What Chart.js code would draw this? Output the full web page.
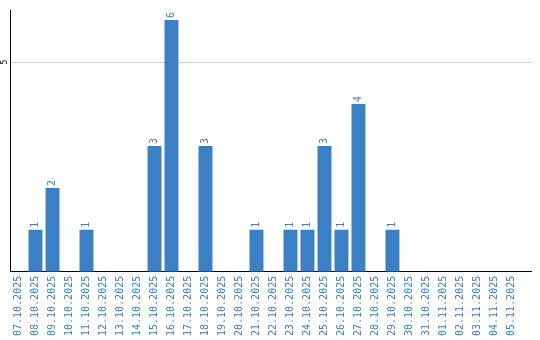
<!DOCTYPE html>
<html>
<head>
<meta charset="utf-8">
<script src="https://cdn.jsdelivr.net/npm/chart.js@4/dist/chart.umd.min.js"></script>
<style>
html,body{margin:0;padding:0;background:#fff;}
#wrap{width:540px;height:340px;position:relative;}
</style>
</head>
<body>
<div id="wrap"><canvas id="c" width="540" height="340"></canvas></div>
<script>
const categories = ["07.10.2025","08.10.2025","09.10.2025","10.10.2025","11.10.2025","12.10.2025","13.10.2025","14.10.2025","15.10.2025","16.10.2025","17.10.2025","18.10.2025","19.10.2025","20.10.2025","21.10.2025","22.10.2025","23.10.2025","24.10.2025","25.10.2025","26.10.2025","27.10.2025","28.10.2025","29.10.2025","30.10.2025","31.10.2025","01.11.2025","02.11.2025","03.11.2025","04.11.2025","05.11.2025"];
const counts = [0,1,2,0,1,0,0,0,3,6,0,3,0,0,1,0,1,1,3,1,4,0,1,0,0,0,0,0,0,0];
const yTicks = [5];

const BLUE = '#3b7fc4';
const MONO = '"DejaVu Sans Mono", "Liberation Mono", monospace';

const rotatedLabels = {
  id: 'rotatedLabels',
  afterDatasetsDraw(chart) {
    const ctx = chart.ctx;
    const meta = chart.getDatasetMeta(0);
    ctx.save();
    ctx.font = '10px ' + MONO;
    ctx.fillStyle = BLUE;
    ctx.textAlign = 'left';
    ctx.textBaseline = 'middle';
    meta.data.forEach((bar, i) => {
      const v = counts[i];
      if (!v) return;
      ctx.save();
      ctx.translate(bar.x, bar.y - 2);
      ctx.rotate(-Math.PI / 2);
      ctx.fillText(String(v), 0, 0);
      ctx.restore();
    });
    const ys = chart.scales.y;
    ctx.font = '8px ' + MONO;
    ctx.fillStyle = '#000';
    ctx.textAlign = 'center';
    ctx.textBaseline = 'middle';
    yTicks.forEach(t => {
      ctx.save();
      ctx.translate(ys.left - 5, ys.getPixelForValue(t));
      ctx.rotate(-Math.PI / 2);
      ctx.fillText(String(t), 0, 0);
      ctx.restore();
    });
    ctx.restore();
  }
};

new Chart(document.getElementById('c'), {
  type: 'bar',
  data: {
    labels: categories,
    datasets: [{
      data: counts,
      backgroundColor: BLUE,
      borderWidth: 0,
      categoryPercentage: 1.0,
      barPercentage: 0.82
    }]
  },
  options: {
    responsive: false,
    animation: false,
    layout: { padding: { left: 10, top: 10, right: 9, bottom: 0 } },
    plugins: { legend: { display: false }, tooltip: { enabled: false } },
    scales: {
      x: {
        afterBuildTicks(scale) { scale._valueRange = categories.length + 0.65; },
        grid: { display: false, drawTicks: false },
        border: { display: true, color: '#000', width: 1 },
        ticks: {
          autoSkip: false,
          maxRotation: 90,
          minRotation: 90,
          padding: 4,
          color: BLUE,
          font: { family: MONO, size: 10 }
        }
      },
      y: {
        min: 0,
        max: 6.24,
        afterBuildTicks(scale) { scale.ticks = yTicks.map(v => ({ value: v })); },
        grid: { color: '#cccccc', drawTicks: false, lineWidth: 1 },
        border: { display: true, color: '#000', width: 1 },
        ticks: { display: false }
      }
    }
  },
  plugins: [rotatedLabels]
});
</script>
</body>
</html>
